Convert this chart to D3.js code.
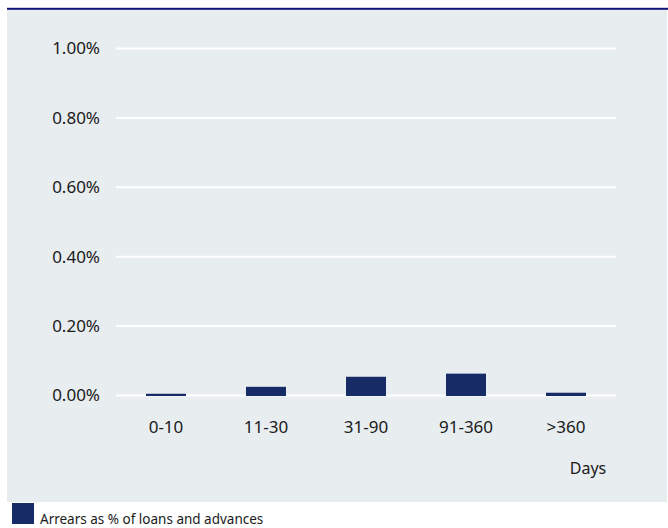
<!DOCTYPE html>
<html>
<head>
<meta charset="utf-8">
<script src="https://cdn.jsdelivr.net/npm/d3@7"></script>
<style>
  html, body { margin: 0; padding: 0; background: #ffffff; }
  svg { display: block; }
  text { font-family: "Noto Sans", "Open Sans", sans-serif; fill: #1a1a1a; }
</style>
</head>
<body>
<svg id="chart" width="668" height="528"></svg>
<script>
// Arrears buckets (days past due) and arrears as % of loans and advances
const categories = ["0-10", "11-30", "31-90", "91-360", ">360"];
const arrearsPct = [0.005, 0.025, 0.054, 0.063, 0.008];
const yTicks = [0, 0.2, 0.4, 0.6, 0.8, 1.0];
const legendLabel = "Arrears as % of loans and advances";
const axisTitle = "Days";

const svg = d3.select("#chart");

// panel background and header rule
svg.append("rect").attr("x", 7).attr("y", 10).attr("width", 660).attr("height", 492)
  .attr("fill", "#e8edf0");
svg.append("rect").attr("x", 7).attr("y", 7.8).attr("width", 661).attr("height", 2)
  .attr("fill", "#11127a");

const plot = { left: 116, right: 616, top: 48.5, bottom: 395.5 };

const x = d3.scaleBand().domain(categories).range([plot.left, plot.right]).paddingInner(0.6).paddingOuter(0.3);
const y = d3.scaleLinear().domain([0, 1.0]).range([plot.bottom, plot.top]);

// gridlines
svg.append("g").selectAll("line").data(yTicks).join("line")
  .attr("x1", plot.left).attr("x2", plot.right)
  .attr("y1", d => y(d)).attr("y2", d => y(d))
  .attr("stroke", "#ffffff").attr("stroke-width", 2);

// y axis labels
const yAxis = d3.axisLeft(y).tickValues(yTicks).tickSize(0).tickPadding(0)
  .tickFormat(d => d3.format(".2f")(d) + "%");
const gy = svg.append("g").attr("transform", `translate(100,0)`).call(yAxis);
gy.select(".domain").remove();
gy.selectAll("text").attr("font-size", 17).attr("fill", "#1a1a1a")
  .attr("font-family", "'Noto Sans', sans-serif");

// bars
svg.append("g").selectAll("rect").data(categories).join("rect")
  .attr("x", d => x(d))
  .attr("width", x.bandwidth())
  .attr("y", (d, i) => y(arrearsPct[i]))
  .attr("height", (d, i) => y(0) - y(arrearsPct[i]) + 0.5)
  .attr("fill", "#172b66");

// x axis labels
const xAxis = d3.axisBottom(x).tickSize(0).tickPadding(0);
const gx = svg.append("g").attr("transform", `translate(0,421)`).call(xAxis);
gx.select(".domain").remove();
gx.selectAll("text").attr("font-size", 17).attr("fill", "#1a1a1a")
  .attr("font-family", "'Noto Sans', sans-serif");

// axis title
svg.append("text").attr("x", 588).attr("y", 474).attr("text-anchor", "middle")
  .attr("font-size", 16).text(axisTitle);

// legend
svg.append("rect").attr("x", 12).attr("y", 503).attr("width", 22).attr("height", 21)
  .attr("fill", "#172b66");
svg.append("text").attr("x", 40).attr("y", 524).attr("font-size", 13.5)
  .attr("font-family", "'Liberation Sans Narrow', 'DejaVu Sans Condensed', sans-serif")
  .text(legendLabel);
</script>
</body>
</html>
